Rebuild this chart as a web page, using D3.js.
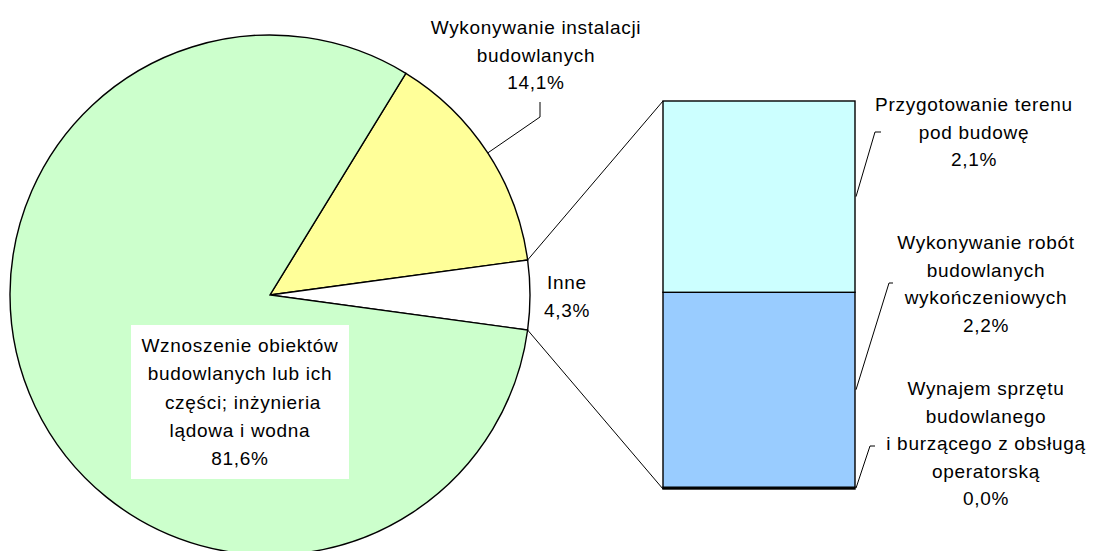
<!DOCTYPE html>
<html>
<head>
<meta charset="utf-8">
<script src="https://cdn.jsdelivr.net/npm/d3@7"></script>
<style>
  body { margin: 0; background: #fff; }
  svg text { font-family: "Liberation Sans", Arial, sans-serif; font-size: 19px; fill: #000; letter-spacing: 0.7px; }
</style>
</head>
<body>
<div id="chart"></div>
<script>
// pie slices (clockwise from the top-right)
var pieLabels = ["Wykonywanie instalacji\nbudowlanych", "Inne", "Wznoszenie obiektów\nbudowlanych lub ich\n części; inżynieria\nlądowa i wodna"];
var pieValues = [14.1, 4.3, 81.6];
var pieColors = ["#ffff99", "#ffffff", "#ccffcc"];

// breakdown of "Inne" (bottom to top)
var barLabels = ["Wynajem sprzętu\nbudowlanego\ni burzącego z obsługą\noperatorską", "Wykonywanie robót\nbudowlanych\nwykończeniowych", "Przygotowanie terenu\npod budowę"];
var barValues = [0.02, 2.16, 2.12];
var barColors = ["#000000", "#99ccff", "#ccffff"];

var width = 1097, height = 551;
var cx = 270, cy = 295, radius = 260;
var fmt = function(v){ return v.toFixed(1).replace(".", ",") + "%"; };

var svg = d3.select("#chart").append("svg")
    .attr("width", width).attr("height", height);

// rotate so that "Inne" is centred on the right
var startA = Math.PI/2 - 2*Math.PI*(pieValues[0] + pieValues[1]/2)/100;
var pie = d3.pie().sort(null).value(function(d){ return d; })
    .startAngle(startA).endAngle(startA + 2*Math.PI);
var arcs = pie(pieValues);
var arc = d3.arc().innerRadius(0).outerRadius(radius);
var pt = function(a, r){ return [cx + r*Math.sin(a), cy - r*Math.cos(a)]; };

var g = svg.append("g").attr("transform", "translate(" + cx + "," + cy + ")");
g.selectAll("path").data(arcs).enter().append("path")
    .attr("d", arc)
    .attr("fill", function(d, i){ return pieColors[i]; })
    .attr("stroke", "#000").attr("stroke-width", 1.4);

// bar of pie
var barX0 = 663, barX1 = 855;
var y = d3.scaleLinear().domain([0, d3.sum(barValues)]).range([489, 101]);
var stack = [];
var acc = 0;
barValues.forEach(function(v, i){ stack.push({v: v, y0: acc, y1: acc + v, i: i}); acc += v; });

svg.selectAll("rect.seg").data(stack).enter().append("rect")
    .attr("class", "seg")
    .attr("x", barX0).attr("width", barX1 - barX0)
    .attr("y", function(d){ return y(d.y1); })
    .attr("height", function(d){ return y(d.y0) - y(d.y1); })
    .attr("fill", function(d){ return barColors[d.i]; })
    .attr("stroke", "#000").attr("stroke-width", 1.4);

// connector lines between pie and bar
var inne = arcs[1];
var p0 = pt(inne.startAngle, radius), p1 = pt(inne.endAngle, radius);
svg.append("line").attr("x1", p0[0]).attr("y1", p0[1]).attr("x2", barX0).attr("y2", y(d3.sum(barValues)))
    .attr("stroke", "#000").attr("stroke-width", 1);
svg.append("line").attr("x1", p1[0]).attr("y1", p1[1]).attr("x2", barX0).attr("y2", y(0))
    .attr("stroke", "#000").attr("stroke-width", 1);

function multiText(x, yTop, lines, lh) {
    var t = svg.append("text").attr("text-anchor", "middle");
    lines.forEach(function(l, k){
        t.append("tspan").attr("x", x).attr("y", yTop + k*lh).text(l);
    });
    return t;
}

var lh = 27.5;

// yellow slice label + leader
var ym = (arcs[0].startAngle + arcs[0].endAngle)/2;
var yp = pt(ym, radius);
svg.append("polyline").attr("points", [yp, [540, 117], [540, 102]].join(" "))
    .attr("fill", "none").attr("stroke", "#000").attr("stroke-width", 1);
multiText(536, 34, pieLabels[0].split("\n").concat(fmt(pieValues[0])), lh);

// Inne label
multiText(567, 289, pieLabels[1].split("\n").concat(fmt(pieValues[1])), lh);

// green label with white box
svg.append("rect").attr("x", 131).attr("y", 325).attr("width", 218).attr("height", 154).attr("fill", "#fff");
multiText(240, 352, pieLabels[2].split("\n").concat(fmt(pieValues[2])), 28.3);

// bar labels + leaders
var barLab = [
    {lx: 986, ly: 395, ex: [870, 446], ee: 875},
    {lx: 986, ly: 249, ex: [889, 283], ee: 893},
    {lx: 974, ly: 111, ex: [875, 132], ee: 881}
];
stack.forEach(function(d, i){
    var L = barLab[i];
    var my = (y(d.y0) + y(d.y1))/2;
    svg.append("polyline").attr("points", [[barX1 + 1, my], L.ex, [L.ee, L.ex[1]]].join(" "))
        .attr("fill", "none").attr("stroke", "#000").attr("stroke-width", 1);
    multiText(L.lx, L.ly, barLabels[i].split("\n").concat(fmt(d.v)), lh);
});
</script>
</body>
</html>
